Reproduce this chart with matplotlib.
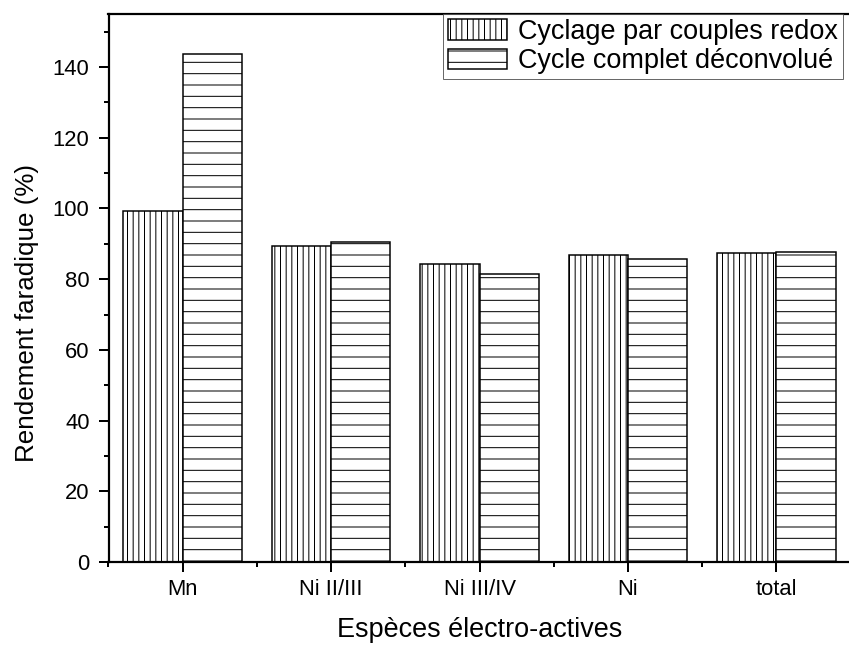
import numpy as np
import matplotlib
matplotlib.use("Agg")
import matplotlib.pyplot as plt
from matplotlib.ticker import MultipleLocator

DPI = 68
PT = 72.0 / DPI  # pixel -> point

plt.rcParams['font.family'] = ['Liberation Sans', 'DejaVu Sans']
plt.rcParams['hatch.linewidth'] = 1.0 * PT

especes = ["Mn", "Ni II/III", "Ni III/IV", "Ni", "total"]
redox = [99.2, 89.3, 84.4, 86.8, 87.4]
deconv = [143.8, 90.6, 81.6, 85.6, 87.6]
labels = ["Cyclage par couples redox", "Cycle complet déconvolué"]

fig = plt.figure(figsize=(849 / DPI, 648 / DPI), dpi=DPI)
ax = fig.add_axes([108.5 / 849, 86 / 648, 742 / 849, 548 / 648])

x = np.arange(len(especes))
w = 0.4
ax.bar(x - w / 2, redox, w, facecolor="white", edgecolor="black",
       hatch="||", linewidth=1.5 * PT, label=labels[0])
ax.bar(x + w / 2, deconv, w, facecolor="white", edgecolor="black",
       hatch="-", linewidth=1.5 * PT, label=labels[1])

ax.set_xlim(-0.5, len(especes) - 0.5)
ax.set_ylim(0, 155)
ax.set_xticks(x)
ax.set_xticklabels(especes)
ax.xaxis.set_minor_locator(MultipleLocator(1, offset=0.5))
ax.yaxis.set_major_locator(MultipleLocator(20))
ax.yaxis.set_minor_locator(MultipleLocator(10))

for s in ax.spines.values():
    s.set_linewidth(2.2 * PT)
ax.spines["right"].set_visible(False)

ax.tick_params(which="major", direction="out", length=10 * PT, width=2 * PT)
ax.tick_params(which="minor", direction="out", length=5 * PT, width=2 * PT)
ax.tick_params(axis="y", which="major", labelsize=22 * PT, pad=9 * PT)
ax.tick_params(axis="x", which="major", labelsize=22 * PT, pad=7 * PT)
ax.tick_params(right=False, top=False)

ax.set_ylabel("Rendement faradique (%)", fontsize=26 * PT)
ax.yaxis.set_label_coords(-0.094, 0.454)
ax.set_xlabel("Espèces électro-actives", fontsize=27 * PT, labelpad=17 * PT)

leg = ax.legend(loc="upper right", bbox_to_anchor=(843 / 849, 634 / 648),
                bbox_transform=fig.transFigure, fontsize=27 * PT,
                frameon=True, fancybox=False, borderaxespad=0,
                borderpad=0.18, handlelength=2.2, handleheight=0.78,
                handletextpad=0.4, labelspacing=0.12)
leg.get_frame().set_edgecolor("#444444")
leg.get_frame().set_linewidth(1 * PT)

fig.savefig("out.png", dpi=DPI)
